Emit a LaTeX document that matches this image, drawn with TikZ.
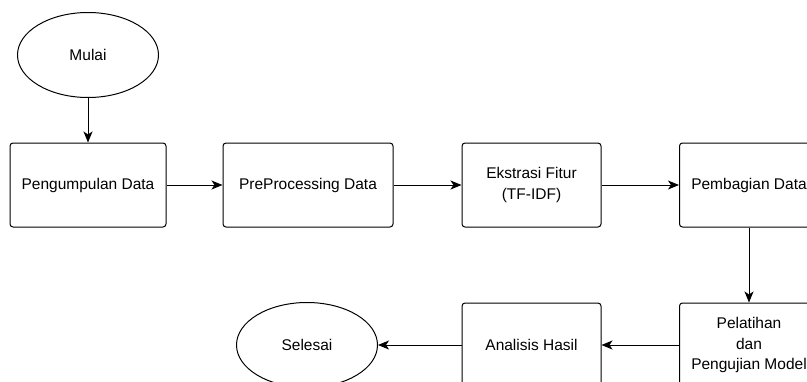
\documentclass[tikz,border=0pt]{standalone}
\usepackage{fontspec}
\setmainfont{Liberation Sans}
\usetikzlibrary{arrows.meta,shapes.geometric}
\begin{document}
\begin{tikzpicture}[x=1pt,y=-1pt,
  box/.style={draw, line width=1pt, rounded corners=3pt, minimum width=139pt, minimum height=84pt, inner sep=0pt, align=center, font=\fontsize{15.5}{20.5}\selectfont},
  term/.style={draw, line width=1pt, ellipse, minimum width=141pt, minimum height=85pt, inner sep=0pt, font=\fontsize{15.5}{20}\selectfont},
  conn/.style={line width=1pt, -{Stealth[length=11pt,width=9pt,inset=3pt]}}]
\clip (0,0) rectangle (807,381);
\fill[white] (0,0) rectangle (807,381);
\node[term] (mulai) at (88,55) {Mulai};
\node[box, minimum width=156pt] (kumpul) at (88,185) {Pengumpulan Data};
\node[box, minimum width=170pt] (prep) at (308,185) {PreProcessing Data};
\node[box] (fitur) at (531.5,185) {Ekstrasi Fitur\\(TF-IDF)};
\node[box] (bagi) at (749,185) {Pembagian Data};
\node[box] (latih) at (749,345) {Pelatihan\\dan\\Pengujian Model};
\node[box] (analisis) at (531.5,345) {Analisis Hasil};
\node[term] (selesai) at (307,345) {Selesai};
\draw[conn] (mulai) -- (kumpul);
\draw[conn] (kumpul) -- (prep);
\draw[conn] (prep) -- (fitur);
\draw[conn] (fitur) -- (bagi);
\draw[conn] (bagi) -- (latih);
\draw[conn] (latih) -- (analisis);
\draw[conn] (analisis) -- (selesai);
\end{tikzpicture}
\end{document}
